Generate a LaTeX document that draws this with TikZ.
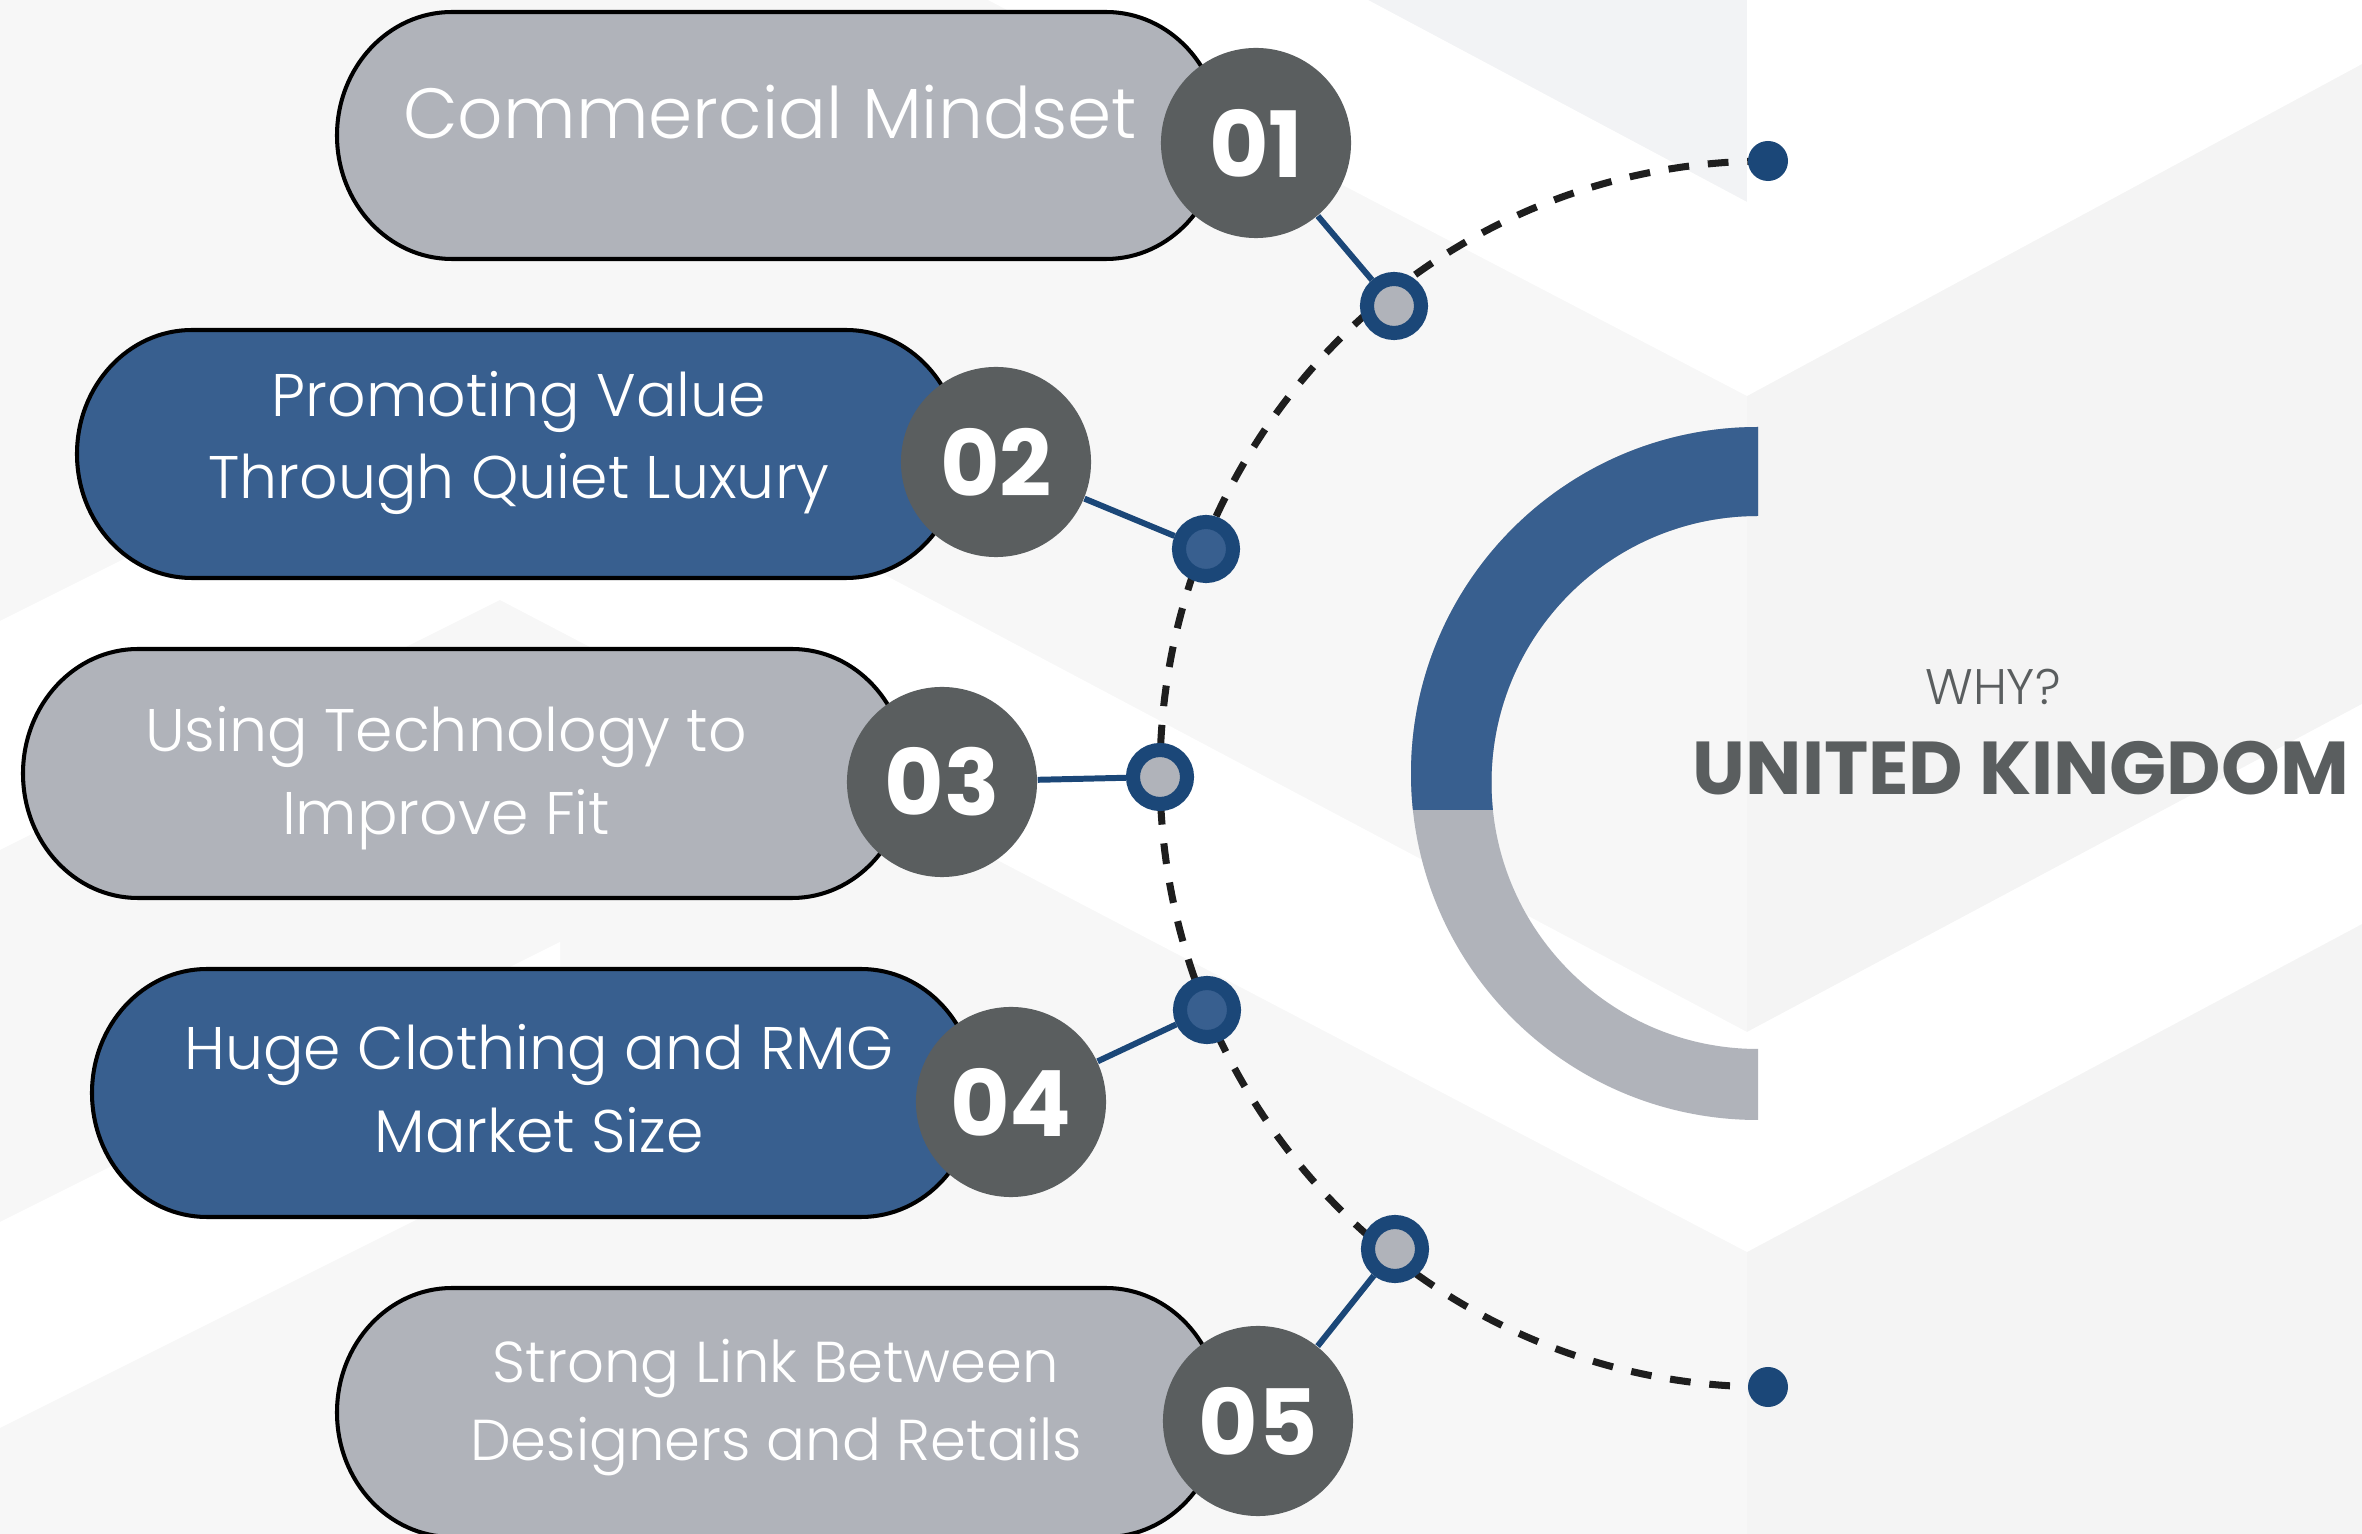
\documentclass[tikz,border=0pt]{standalone}
\usepackage{fontspec}
\setmainfont{Poppins}
\newfontfamily\poplight{Poppins}[UprightFont=* Light]
\definecolor{pblue}{HTML}{385F8F}
\definecolor{pgray}{HTML}{B0B3BA}
\definecolor{ndark}{HTML}{5A5E5F}
\definecolor{rblue}{HTML}{1B4778}
\definecolor{bgA}{HTML}{F7F7F7}
\definecolor{bgB}{HTML}{F4F4F4}
\definecolor{bgC}{HTML}{F2F3F5}
\definecolor{arcblack}{HTML}{1E1E1E}
\pgfdeclarelayer{bg}
\pgfdeclarelayer{mid}
\pgfsetlayers{bg,mid,main}
\newcommand\mypill[5]{%
  \filldraw[pillline,fill=#5] ({#1+115},#3) -- ({#2-115},#3)
    arc[start angle=270,end angle=450,x radius=115,y radius={(#4-#3)/2}]
    -- ({#1+115},#4)
    arc[start angle=90,end angle=270,x radius=115,y radius={(#4-#3)/2}] -- cycle;}
\begin{document}
\begin{tikzpicture}[x=0.01cm,y=-0.01cm,
  pilltext/.style={text=white,font=\poplight\fontsize{17.1}{20}\selectfont,anchor=base,inner sep=0},
  numcirc/.style={circle,fill=ndark,minimum size=1.9cm,inner sep=0,text=white,font=\bfseries\fontsize{26}{30}\selectfont},
  ringdot/.style={circle,draw=rblue,line width=4pt,minimum size=0.54cm,inner sep=0},
  enddot/.style={circle,fill=rblue,minimum size=0.4cm,inner sep=0},
  link/.style={draw=rblue,line width=1.7pt},
  pillline/.style={draw=black,line width=1.15pt},
  dasharc/.style={draw=arcblack,line width=2pt,dash pattern=on 5.9pt off 5.35pt}
]
\useasboundingbox (0,0) rectangle (2362,1534);

% ---------- nodes ----------
\node[numcirc] (n1) at (1256,143) {01};
\node[numcirc] (n2) at (996,462) {02};
\node[numcirc] (n3) at (942,782) {03};
\node[numcirc] (n4) at (1011,1102) {04};
\node[numcirc] (n5) at (1258,1421) {05};

\node[ringdot,fill=pgray] (d1) at (1394,306) {};
\node[ringdot,fill=pblue] (d2) at (1206,549) {};
\node[ringdot,fill=pgray] (d3) at (1160,777) {};
\node[ringdot,fill=pblue] (d4) at (1207,1010) {};
\node[ringdot,fill=pgray] (d5) at (1395,1249) {};
\node[enddot] (e1) at (1768,161) {};
\node[enddot] (e2) at (1768,1387) {};

\node[pilltext,font=\poplight\fontsize{20.2}{24}\selectfont] (t1) at (770,139) {Commercial Mindset};
\node[pilltext] (t2a) at (519,417) {Promoting Value};
\node[pilltext] (t2b) at (519,499) {Through Quiet Luxury};
\node[pilltext] (t3a) at (446,752) {Using Technology to};
\node[pilltext] (t3b) at (446,835) {Improve Fit};
\node[pilltext] (t4a) at (539,1070) {Huge Clothing and RMG};
\node[pilltext] (t4b) at (539,1153) {Market Size};
\node[pilltext,font=\poplight\fontsize{16.4}{20}\selectfont] (t5a) at (776,1383) {Strong Link Between};
\node[pilltext,font=\poplight\fontsize{16.4}{20}\selectfont] (t5b) at (776,1461) {Designers and Retails};

\node[anchor=base,inner sep=0,text=ndark,font=\poplight\fontsize{14.2}{17}\selectfont] (why) at (1993,705) {WHY?};
\node[anchor=base,inner sep=0,text=ndark,font=\bfseries\fontsize{21.3}{26}\selectfont] (uk) at (2021,795) {UNITED KINGDOM};

% ---------- background ----------
\begin{pgfonlayer}{bg}
\fill[bgA] (0,0) rectangle (2362,1534);
\fill[bgB] (1747,0) rectangle (2362,1534);
\fill[bgC] (1368,0) -- (1747,0) -- (1747,202) -- cycle;
\fill[white] (988,0) -- (1368,0) -- (1747,202) -- (1747,396) -- cycle;
\fill[white] (1747,0) -- (2362,0) -- (2362,64) -- (1747,396) -- cycle;
\fill[white] (0,621) -- (500,371) -- (1747,1032) -- (2362,704) -- (2362,924)
  -- (1747,1252) -- (500,600) -- (0,850) -- cycle;
\fill[white] (0,1222) -- (560,942) -- (560,1148) -- (0,1428) -- cycle;
% C ring
\fill[pgray] (1758,427) arc[start angle=270,end angle=90,x radius=347,y radius=346.5]
  -- (1758,1049) arc[start angle=90,end angle=270,radius=266.5] -- cycle;
\begin{scope}
\clip (1300,0) rectangle (1900,810);
\fill[pblue] (1758,427) arc[start angle=270,end angle=90,x radius=347,y radius=346.5]
  -- (1758,1049) arc[start angle=90,end angle=270,radius=266.5] -- cycle;
\end{scope}
\end{pgfonlayer}

% ---------- pills, arc, connectors ----------
\begin{pgfonlayer}{mid}
\mypill{337}{1221}{12}{259}{pgray}
\mypill{77}{961}{330}{578}{pblue}
\mypill{23}{907}{649}{898}{pgray}
\mypill{92}{976}{969}{1217}{pblue}
\mypill{337}{1221}{1288}{1537}{pgray}
\draw[dasharc] (e1.center) arc[start angle=270,end angle=90,x radius=608,y radius=613];
\draw[link] (n1) -- (d1);
\draw[link] (n2) -- (d2);
\draw[link] (n3) -- (d3);
\draw[link] (n4) -- (d4);
\draw[link] (n5) -- (d5);
\end{pgfonlayer}
\end{tikzpicture}
\end{document}
